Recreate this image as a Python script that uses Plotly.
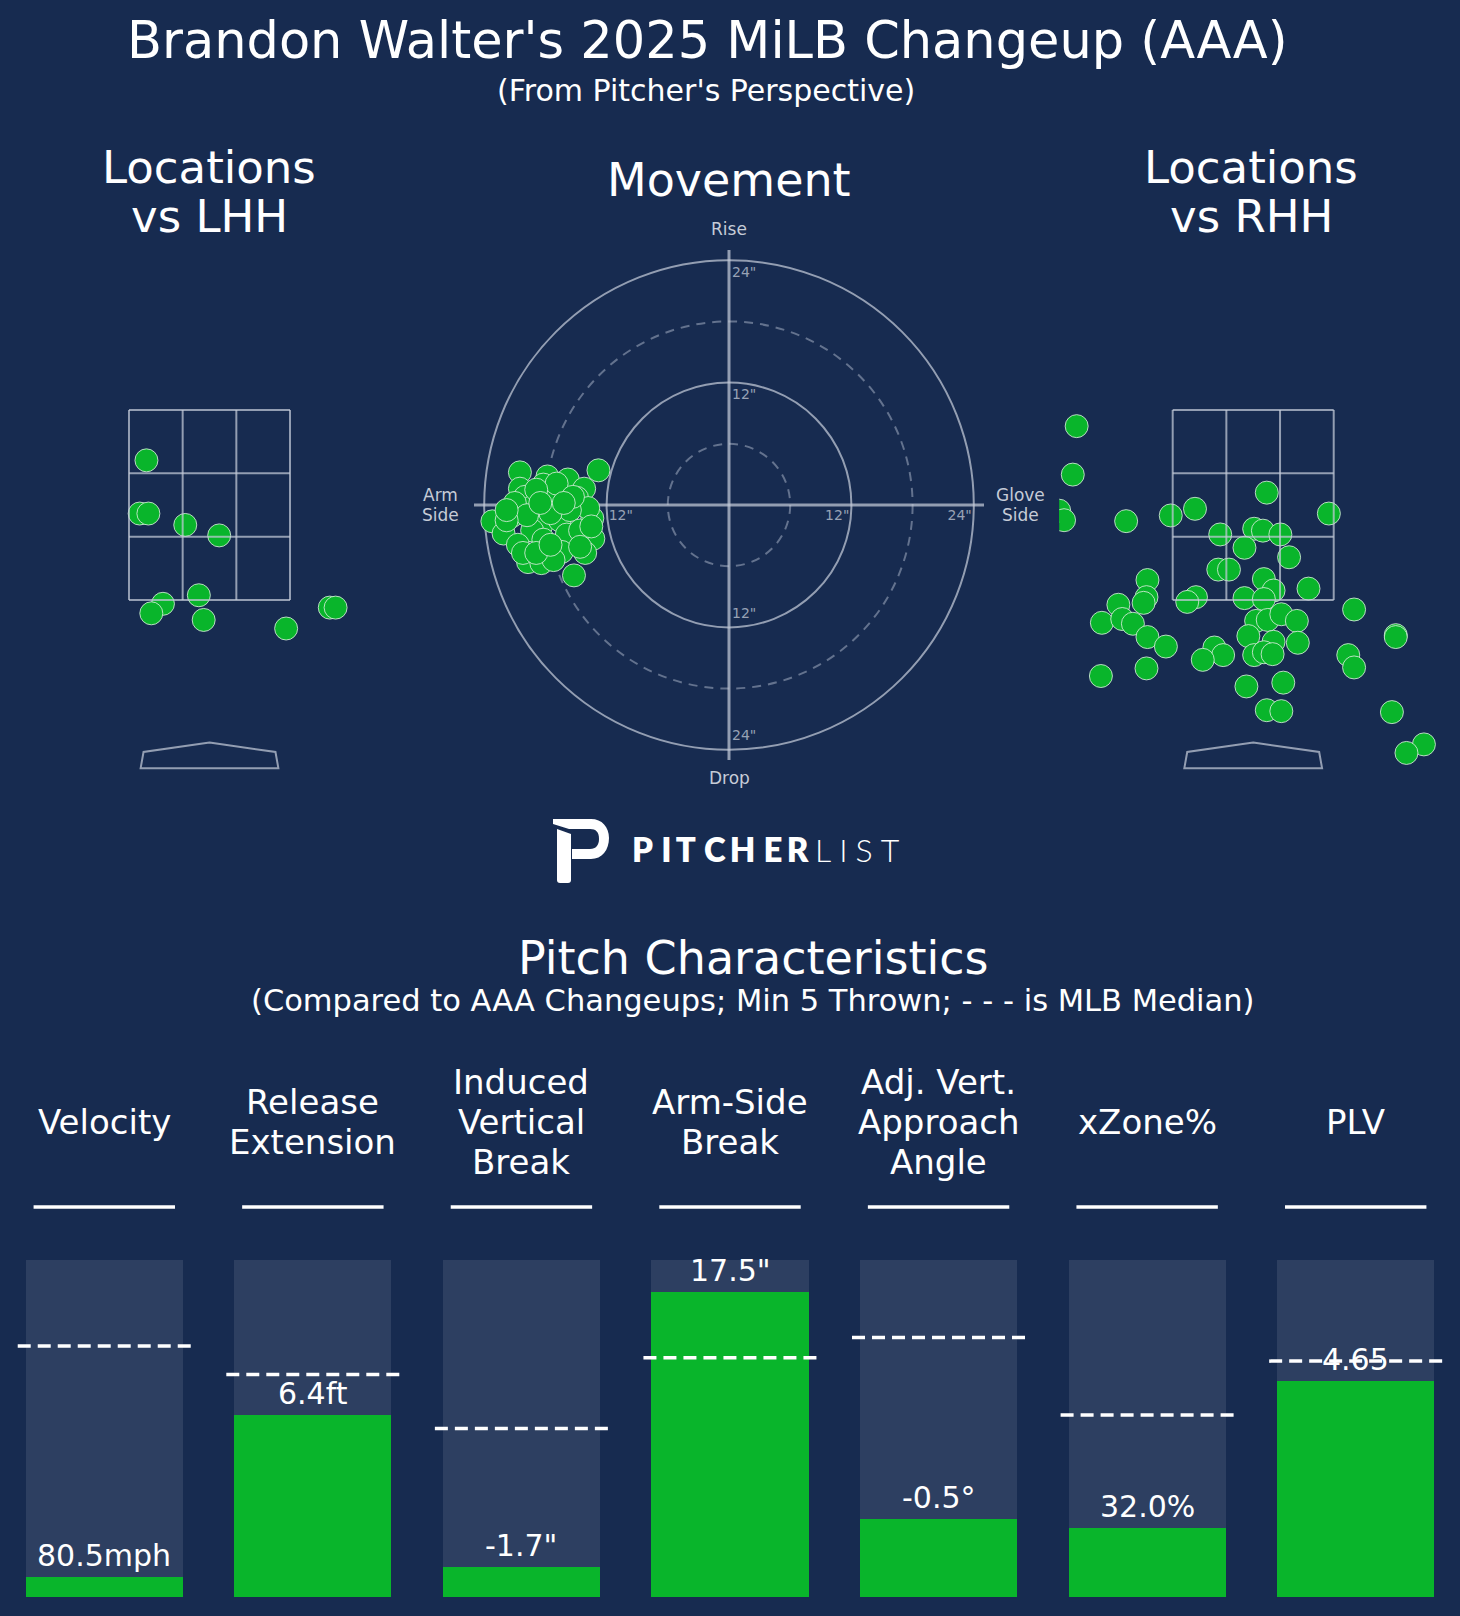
import plotly.graph_objects as go

W, H = 1460, 1616
BG = "#172b50"
GREEN = "#09b52b"
PANEL = "#2d3f61"
GRID = "rgba(196,203,216,0.72)"
FONT = "DejaVu Sans"

# ---- pitch locations (ft, pitcher's perspective) ----
lhh_x = [-0.65, -0.72, -0.63, -0.25, 0.10, -0.48, -0.60, -0.11, -0.06, 0.79, 1.24, 1.30]
lhh_z = [2.97, 2.41, 2.41, 2.29, 2.18, 1.46, 1.36, 1.55, 1.29, 1.20, 1.42, 1.42]

rhh_x = [-1.82, -1.86, -2.00, -1.95, -1.31, -0.85, -0.60, 0.14, 0.78, -0.34,
         0.01, 0.10, 0.28, -0.09, 0.37, -0.36, -0.25, 0.11, 0.21, 0.57,
         -1.09, -1.10, -1.13, -1.39, -0.59, -0.68, -0.09, 0.11, -1.56, -1.35,
         -1.24, -1.09, -0.90, 0.03, 0.15, 0.29, 0.45, -0.05, 0.21, 0.46,
         1.04, 1.47, 1.47, -0.40, -0.31, -0.52, 0.01, 0.11, 0.20, 0.98,
         1.04, -1.57, -1.10, -0.07, 0.31, 0.14, 0.29, 1.43, 1.76, 1.58]
rhh_z = [3.33, 2.82, 2.44, 2.34, 2.33, 2.39, 2.46, 2.63, 2.41, 2.19,
         2.25, 2.23, 2.19, 2.05, 1.95, 1.82, 1.82, 1.72, 1.60, 1.62,
         1.71, 1.53, 1.47, 1.45, 1.53, 1.48, 1.52, 1.51, 1.26, 1.30,
         1.25, 1.11, 1.01, 1.28, 1.29, 1.35, 1.28, 1.12, 1.06, 1.05,
         1.40, 1.13, 1.11, 1.00, 0.92, 0.87, 0.92, 0.95, 0.93, 0.92,
         0.79, 0.70, 0.78, 0.59, 0.63, 0.34, 0.33, 0.32, -0.02, -0.11]

# ---- movement (inches; arm side negative) ----
mov_hb = [-20.5, -12.8, -17.8, -15.8, -20.5, -18.2, -14.2, -20.0, -16.9, -14.9,
          -23.2, -22.1, -21.3, -18.4, -19.3, -16.6, -13.4, -13.3, -20.7, -18.2,
          -15.9, -16.4, -19.7, -18.4, -17.2, -15.2, -14.1, -13.8, -19.3, -21.0,
          -19.8, -15.6, -17.5, -14.6, -20.2, -18.9, -17.5, -14.6, -21.8, -16.9,
          -18.9, -15.3, -21.8, -18.5, -16.2, -13.5]
mov_ivb = [3.2, 3.4, 2.8, 2.5, 1.6, 2.0, 1.6, 0.8, 0.7, 0.7,
           -1.6, -2.8, -1.1, -2.0, -2.5, -1.5, -1.3, -3.3, -3.9, -3.4,
           -2.9, -4.6, -5.6, -5.7, -5.4, -6.9, -4.7, -0.3, -0.2, 0.2,
           -1.0, -0.5, -0.8, -2.5, -4.7, -4.7, -3.9, -4.1, -1.5, 2.1,
           1.5, 0.8, -0.5, 0.2, 0.2, -2.1]
ring_solid = [12, 24]
ring_dash = [6, 18]

# ---- pitch characteristics ----
metric_names = ["Velocity", "Release\nExtension", "Induced\nVertical\nBreak",
                "Arm-Side\nBreak", "Adj. Vert.\nApproach\nAngle", "xZone%", "PLV"]
metric_labels = ["80.5mph", "6.4ft", "-1.7\"", "17.5\"", "-0.5°", "32.0%", "4.65"]
metric_pct = [6, 54, 9, 90.5, 23, 20.5, 64]
median_pct = [74.5, 66, 50, 71, 77, 54, 70]


def px(x):
    return x / W


def py(y):
    return 1 - y / H


BAR_PX = 3.37  # pixels per percentile point
idx = list(range(len(metric_names)))

fig = go.Figure()

# movement tick labels (drawn first so the points sit on top)
tx, ty, tt, tp = [], [], [], []
for r in ring_solid:
    lab = f'{r}"'
    tx += [0.3, 0.3, -r + 0.2, r - 0.2]
    ty += [r - 1.3, -(r - 1.3), -1.1, -1.1]
    tt += [lab] * 4
    tp += ["middle right", "middle right", "middle right", "middle left"]
fig.add_trace(go.Scatter(x=tx, y=ty, text=tt, mode="text", textposition=tp,
                         textfont=dict(size=14, color="#98a2b5", family=FONT),
                         xaxis="x2", yaxis="y2", hoverinfo="skip"))

mk = dict(size=23, color=GREEN, line=dict(width=1, color="rgba(225,240,228,0.8)"))
fig.add_trace(go.Scatter(x=lhh_x, y=lhh_z, mode="markers", marker=mk,
                         xaxis="x", yaxis="y"))
fig.add_trace(go.Scatter(x=mov_hb, y=mov_ivb, mode="markers", marker=mk,
                         xaxis="x2", yaxis="y2", cliponaxis=False))
fig.add_trace(go.Scatter(x=rhh_x, y=rhh_z, mode="markers", marker=mk,
                         xaxis="x3", yaxis="y3"))

# characteristic bars
fig.add_trace(go.Bar(x=idx, y=[100] * len(idx), width=0.754, marker_color=PANEL,
                     marker_line_width=0, xaxis="x4", yaxis="y4"))
fig.add_trace(go.Bar(x=idx, y=metric_pct, width=0.754, marker_color=GREEN,
                     marker_line_width=0, xaxis="x4", yaxis="y4"))
mx, my = [], []
for i, m in zip(idx, median_pct):
    mx += [i - 0.415, i + 0.415, None]
    my += [m, m, None]
fig.add_trace(go.Scatter(x=mx, y=my, mode="lines", xaxis="x4", yaxis="y4",
                         line=dict(color="white", width=3.5, dash="13px,7px")))

shapes = []
# strike zones and plates
for xr, yr in (("x", "y"), ("x3", "y3")):
    zl, zr, zb, zt = -0.83, 0.83, 1.5, 3.5
    for k in range(4):
        xv = zl + k * (zr - zl) / 3
        shapes.append(dict(type="line", xref=xr, yref=yr, x0=xv, x1=xv, y0=zb, y1=zt,
                           line=dict(color=GRID, width=2)))
        yv = zb + k * (zt - zb) / 3
        shapes.append(dict(type="line", xref=xr, yref=yr, x0=zl, x1=zr, y0=yv, y1=yv,
                           line=dict(color=GRID, width=2)))
    shapes.append(dict(type="path", xref=xr, yref=yr,
                       path="M 0,0 L 0.68,-0.1 L 0.71,-0.27 L -0.71,-0.27 L -0.68,-0.1 Z",
                       line=dict(color=GRID, width=2)))

# movement rings and axes
for r in ring_solid:
    shapes.append(dict(type="circle", xref="x2", yref="y2", x0=-r, x1=r, y0=-r, y1=r,
                       layer="below", line=dict(color=GRID, width=2)))
for r in ring_dash:
    shapes.append(dict(type="circle", xref="x2", yref="y2", x0=-r, x1=r, y0=-r, y1=r,
                       layer="below",
                       line=dict(color="rgba(150,162,184,0.6)", width=2, dash="9px,7px")))
shapes.append(dict(type="line", xref="x2", yref="y2", x0=-25, x1=25, y0=0, y1=0,
                   layer="below", line=dict(color=GRID, width=3)))
shapes.append(dict(type="line", xref="x2", yref="y2", x0=0, x1=0, y0=-25, y1=25,
                   layer="below", line=dict(color=GRID, width=3)))

# header underlines
ul_y = (1597 - 1207) / BAR_PX
for i in idx:
    shapes.append(dict(type="line", xref="x4", yref="y4", x0=i - 0.339, x1=i + 0.339,
                       y0=ul_y, y1=ul_y, line=dict(color="white", width=3.5)))

# Pitcher List "P" mark (pixel space overlay)
shapes.append(dict(type="path", xref="x5", yref="y5", fillcolor="white", line_width=0,
                   path="M 553,819 L 591,819 C 602,819 609,827 609,838 "
                        "C 609,850 602,859 591,859 L 572,859 L 572,849 L 590,849 "
                        "C 596,849 599,845 599,839 C 599,832 596,829 590,829 "
                        "L 569,829 L 553,824 Z"))
shapes.append(dict(type="path", xref="x5", yref="y5", fillcolor="white", line_width=0,
                   path="M 557,829 L 571,834 L 571,880 Q 571,883 568,883 "
                        "L 560,883 Q 557,883 557,880 Z"))

ann = []


def label(xp, yp, s, size, color="white", family=FONT, lh=1.17, xanchor="center",
          weight=None):
    """Text placed in pixel coords; multi-line text split on newlines."""
    lines = s.split("\n")
    n = len(lines)
    for k, ln in enumerate(lines):
        f = dict(size=size, color=color, family=family)
        if weight:
            f["weight"] = weight
        ann.append(dict(x=px(xp), y=py(yp + (k - (n - 1) / 2) * lh * size), text=ln,
                        xref="paper", yref="paper", showarrow=False,
                        xanchor=xanchor, yanchor="middle", font=f))


label(707, 40, "Brandon Walter's 2025 MiLB Changeup (AAA)", 51)
label(706, 90, "(From Pitcher's Perspective)", 30)
label(209, 192, "Locations\nvs LHH", 45, lh=1.11)
label(1251, 192, "Locations\nvs RHH", 45, lh=1.11)
label(729, 180, "Movement", 46)

lab_col = "#c6ccd7"
label(729, 229, "Rise", 17, lab_col)
label(729, 778, "Drop", 17, lab_col)
label(440, 505, "Arm\nSide", 17, lab_col)
label(1020, 505, "Glove\nSide", 17, lab_col)

logo_bold = "P\u2005I\u2009T\u2005C\u2009H\u2005E\u2009R"
label(811, 849, logo_bold, 33, family="Lato, Open Sans", xanchor="right", weight=800)
label(813, 849, "\u2005".join("LIST"), 32, family="Lato, Open Sans",
      xanchor="left", weight=300)

label(753, 958, "Pitch Characteristics", 46)
label(753, 1000, "(Compared to AAA Changeups; Min 5 Thrown; - - - is MLB Median)", 30.5)

for i, name in enumerate(metric_names):
    label(W * (i + 0.5) / len(metric_names), 1122, name, 34, lh=1.18)

for i, (lab, v) in enumerate(zip(metric_labels, metric_pct)):
    ann.append(dict(x=i, y=v, text=lab, xref="x4", yref="y4", showarrow=False,
                    xanchor="center", yanchor="bottom", yshift=2,
                    font=dict(size=30, color="white", family=FONT)))

ax = dict(visible=False, fixedrange=True)
fig.update_layout(
    width=W, height=H, margin=dict(l=0, r=0, t=0, b=0),
    paper_bgcolor=BG, plot_bgcolor="rgba(0,0,0,0)", showlegend=False,
    barmode="overlay", bargap=0,
    xaxis=dict(ax, domain=[px(15.5), px(403.5)], range=[-2, 2], anchor="y"),
    yaxis=dict(ax, domain=[py(790), py(362.5)], range=[-0.5, 4.0], anchor="x"),
    xaxis2=dict(ax, domain=[px(453.6), px(1004.4)], range=[-27, 27], anchor="y2"),
    yaxis2=dict(ax, domain=[py(780.4), py(229.6)], range=[-27, 27], anchor="x2"),
    xaxis3=dict(ax, domain=[px(1059.2), px(1447.2)], range=[-2, 2], anchor="y3"),
    yaxis3=dict(ax, domain=[py(790), py(362.5)], range=[-0.5, 4.0], anchor="x3"),
    xaxis4=dict(ax, domain=[0, 1], range=[-0.5, 6.5], anchor="y4"),
    yaxis4=dict(ax, domain=[py(1597), py(1190)], range=[0, (1597 - 1190) / BAR_PX],
                anchor="x4"),
    xaxis5=dict(ax, domain=[0, 1], range=[0, W], anchor="y5"),
    yaxis5=dict(ax, domain=[0, 1], range=[H, 0], anchor="x5"),
    shapes=shapes, annotations=ann,
)

fig.write_html("out.html", post_script="document.body.style.margin='0';",
               config={"displayModeBar": False})
